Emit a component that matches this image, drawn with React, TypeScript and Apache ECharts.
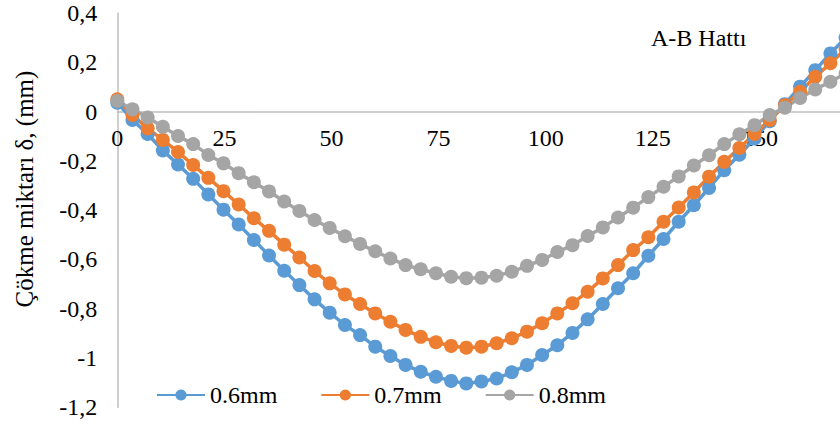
import React, { useEffect, useRef } from "react";
import * as echarts from "echarts";

// Stations along the A-B line (cm)
const stations = [
  0, 3.54, 7.08, 10.63, 14.17, 17.71, 21.25, 24.79, 28.33, 31.88, 35.42, 38.96,
  42.5, 46.04, 49.58, 53.13, 56.67, 60.21, 63.75, 67.29, 70.83, 74.38, 77.92,
  81.46, 85, 88.54, 92.08, 95.63, 99.17, 102.71, 106.25, 109.79, 113.33, 116.88,
  120.42, 123.96, 127.5, 131.04, 134.58, 138.13, 141.67, 145.21, 148.75, 152.29,
  155.83, 159.38, 162.92, 166.46, 170,
];

// Settlement δ (mm) for each case
const s06 = [
  0.036, -0.034, -0.091, -0.158, -0.215, -0.273, -0.336, -0.398, -0.458, -0.521,
  -0.584, -0.646, -0.704, -0.762, -0.816, -0.866, -0.907, -0.954, -0.992, -1.028,
  -1.056, -1.076, -1.093, -1.103, -1.095, -1.083, -1.058, -1.028, -0.988, -0.948,
  -0.898, -0.843, -0.781, -0.717, -0.656, -0.585, -0.517, -0.447, -0.38, -0.31,
  -0.238, -0.175, -0.109, -0.039, 0.03, 0.101, 0.168, 0.236, 0.3,
];
const s07 = [
  0.05, -0.014, -0.068, -0.115, -0.164, -0.217, -0.269, -0.323, -0.377, -0.433,
  -0.484, -0.54, -0.592, -0.647, -0.697, -0.742, -0.781, -0.819, -0.853, -0.886,
  -0.914, -0.936, -0.951, -0.958, -0.954, -0.94, -0.92, -0.893, -0.859, -0.819,
  -0.778, -0.731, -0.677, -0.623, -0.562, -0.51, -0.447, -0.389, -0.328, -0.264,
  -0.204, -0.148, -0.091, -0.034, 0.026, 0.08, 0.141, 0.196, 0.254,
];
const s08 = [
  0.043, 0.009, -0.024, -0.062, -0.099, -0.132, -0.176, -0.21, -0.25, -0.287,
  -0.324, -0.365, -0.403, -0.44, -0.472, -0.506, -0.537, -0.567, -0.596, -0.623,
  -0.64, -0.656, -0.67, -0.676, -0.674, -0.666, -0.65, -0.626, -0.602, -0.57,
  -0.542, -0.505, -0.47, -0.43, -0.39, -0.347, -0.305, -0.263, -0.219, -0.177,
  -0.132, -0.092, -0.055, -0.014, 0.016, 0.055, 0.09, 0.121, 0.155,
];

const seriesNames = ["0.6mm", "0.7mm", "0.8mm"];
const seriesColors = ["#5B9BD5", "#ED7D31", "#A5A5A5"];
const seriesValues = [s06, s07, s08];

const chartTitle = "A-B Hattı";
const yAxisTitle = "Çökme miktarı δ, (mm)";

const FONT = "Times New Roman, Liberation Serif, Times, serif";

// plot box
const GRID_TOP = 13;
const GRID_BOTTOM = 19.7;
const CHART_H = 427;
const Y_MIN = -1.2;
const Y_MAX = 0.4;
// shift the horizontal axis from the bottom edge up to δ = 0
const plotH = CHART_H - GRID_TOP - GRID_BOTTOM;
const zeroShift = -(plotH * (0 - Y_MIN)) / (Y_MAX - Y_MIN);

export default function App() {
  const ref = useRef<HTMLDivElement>(null);

  useEffect(() => {
    if (!ref.current) return;
    const chart = echarts.init(ref.current, undefined, { renderer: "svg" });

    chart.setOption({
      animation: false,
      backgroundColor: "#ffffff",
      textStyle: { fontFamily: FONT, color: "#000" },
      grid: { left: 117.3, right: 13, top: GRID_TOP, bottom: GRID_BOTTOM },
      xAxis: {
        type: "value",
        min: 0,
        max: 175,
        interval: 25,
        offset: zeroShift,
        axisLine: { onZero: false, lineStyle: { color: "#BFBFBF", width: 1.5 } },
        axisTick: { show: false },
        splitLine: { show: false },
        axisLabel: {
          fontFamily: FONT,
          fontSize: 24,
          color: "#000",
          margin: 14,
          formatter: (v: number) => (v > 170 ? "" : String(v)),
        },
      },
      yAxis: {
        type: "value",
        min: Y_MIN,
        max: Y_MAX,
        interval: 0.2,
        axisLine: { show: true, onZero: false, lineStyle: { color: "#BFBFBF", width: 1.5 } },
        axisTick: { show: false },
        splitLine: { show: false },
        axisLabel: {
          fontFamily: FONT,
          fontSize: 24,
          color: "#000",
          margin: 20,
          formatter: (v: number) => {
            const r = Math.round(v * 10) / 10;
            return String(r).replace(".", ",");
          },
        },
      },
      legend: {
        left: 151,
        top: 378,
        itemWidth: 48,
        itemHeight: 14,
        itemGap: 43,
        textStyle: { fontFamily: FONT, fontSize: 24, color: "#000" },
        data: seriesNames,
      },
      title: {
        text: chartTitle,
        left: 646,
        top: 21,
        textStyle: { fontFamily: FONT, fontSize: 24, fontWeight: "normal", color: "#000" },
      },
      graphic: [
        {
          type: "text",
          x: 24,
          y: 189,
          rotation: Math.PI / 2,
          style: {
            text: yAxisTitle,
            fontFamily: FONT,
            fontSize: 25,
            fill: "#000",
            textAlign: "center",
            textVerticalAlign: "middle",
          },
        },
      ],
      series: seriesValues.map((vals, k) => ({
        name: seriesNames[k],
        type: "line",
        data: stations.map((x, i) => [x, vals[i]]),
        symbol: "circle",
        symbolSize: 14,
        showSymbol: true,
        lineStyle: { color: seriesColors[k], width: 3.5 },
        itemStyle: { color: seriesColors[k] },
        emphasis: { disabled: true },
        clip: false,
      })),
    });

    return () => chart.dispose();
  }, []);

  return (
    <div
      style={{
        position: "fixed",
        left: 0,
        top: 0,
        width: 840,
        height: 427,
        overflow: "hidden",
        background: "#fff",
      }}
    >
      <div ref={ref} style={{ width: 880, height: 427 }} />
    </div>
  );
}
